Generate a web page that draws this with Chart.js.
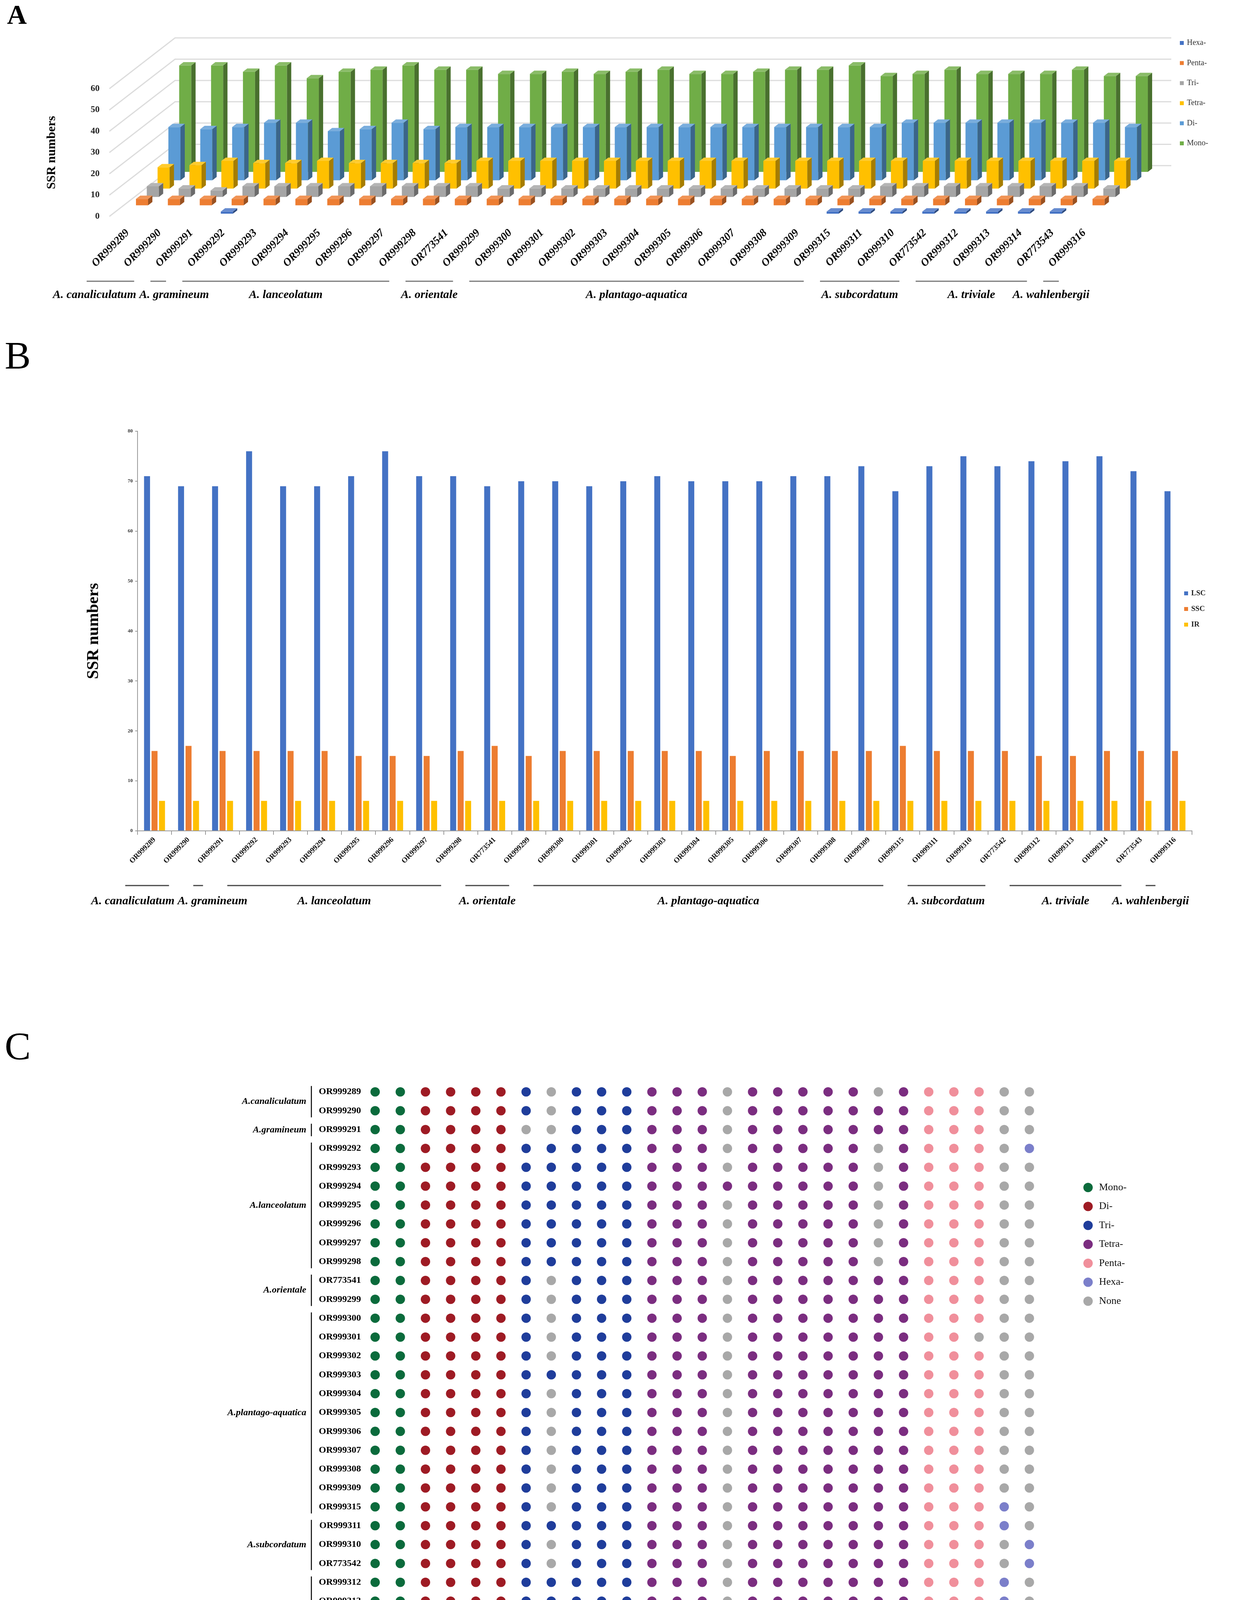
<!DOCTYPE html>
<html>
<head>
<meta charset="utf-8">
<title>SSR distribution in Alisma plastomes</title>
<script src="https://cdn.jsdelivr.net/npm/chart.js@4.4.1/dist/chart.umd.min.js"></script>
<style>
  body { margin: 0; background: #fff; }
  #page { position: relative; width: 3156px; height: 4488px; background: #fff; overflow: hidden; }
  canvas { position: absolute; left: 0; }
  .tag { position: absolute; font-family: 'Liberation Serif', 'Times New Roman', serif; color: #000; line-height: 1; }
</style>
</head>
<body>
<div id="page">
  <canvas id="chartA" width="3156" height="860" style="top:0"></canvas>
  <canvas id="chartB" width="3156" height="1500" style="top:860px"></canvas>
  <canvas id="chartC" width="3156" height="1928" style="top:2560px"></canvas>
  <div class="tag" style="left:18px;top:3px;font-size:70px;font-weight:bold">A</div>
  <div class="tag" style="left:12px;top:860px;font-size:100px">B</div>
  <div class="tag" style="left:12px;top:2628px;font-size:100px">C</div>
</div>
<script>
// accessions, in the order used by all three panels
const accessions = ['OR999289', 'OR999290', 'OR999291', 'OR999292', 'OR999293', 'OR999294', 'OR999295',
  'OR999296', 'OR999297', 'OR999298', 'OR773541', 'OR999299', 'OR999300', 'OR999301', 'OR999302',
  'OR999303', 'OR999304', 'OR999305', 'OR999306', 'OR999307', 'OR999308', 'OR999309', 'OR999315',
  'OR999311', 'OR999310', 'OR773542', 'OR999312', 'OR999313', 'OR999314', 'OR773543', 'OR999316'];
const species = ['A. canaliculatum', 'A. gramineum', 'A. lanceolatum', 'A. orientale',
  'A. plantago-aquatica', 'A. subcordatum', 'A. triviale', 'A. wahlenbergii'];
const speciesShort = ['A.canaliculatum', 'A.gramineum', 'A.lanceolatum', 'A.orientale',
  'A.plantago-aquatica', 'A.subcordatum', 'A. triviale', 'A.wahlenbergii'];
const speciesCount = [2, 1, 7, 2, 11, 3, 4, 1];

// panel A: SSR counts by motif type
const motifTypesA = ['Hexa-', 'Penta-', 'Tri-', 'Tetra-', 'Di-', 'Mono-'];
const hexa  = [0, 0, 0, 1, 0, 0, 0, 0, 0, 0, 0, 0, 0, 0, 0, 0, 0, 0, 0, 0, 0, 0, 1, 1, 1, 1, 1, 1, 1, 1, 0];
const penta = [3, 3, 3, 3, 3, 3, 3, 3, 3, 3, 3, 3, 3, 3, 3, 3, 3, 3, 3, 3, 3, 3, 3, 3, 3, 3, 3, 3, 3, 3, 3];
const tri   = [5, 4, 3, 5, 5, 5, 5, 5, 5, 5, 5, 4, 4, 4, 4, 4, 4, 4, 4, 4, 4, 4, 4, 5, 5, 5, 5, 5, 5, 5, 4];
const tetra = [10, 11, 13, 12, 12, 13, 12, 12, 12, 12, 13, 13, 13, 13, 13, 13, 13, 13, 13, 13, 13, 13, 13, 13, 13, 13, 13, 13, 13, 13, 13];
const di    = [25, 24, 25, 27, 27, 23, 24, 27, 24, 25, 25, 25, 25, 25, 25, 25, 25, 25, 25, 25, 25, 25, 25, 27, 27, 27, 27, 27, 27, 27, 25];
const mono  = [50, 50, 47, 50, 44, 47, 48, 50, 48, 48, 46, 46, 47, 46, 47, 48, 46, 46, 47, 48, 48, 50, 45, 46, 48, 46, 46, 46, 48, 45, 45];

// panel B: SSR counts by plastome region
const regions = ['LSC', 'SSC', 'IR'];
const lsc = [71, 69, 69, 76, 69, 69, 71, 76, 71, 71, 69, 70, 70, 69, 70, 71, 70, 70, 70, 71, 71, 73, 68, 73, 75, 73, 74, 74, 75, 72, 68];
const ssc = [16, 17, 16, 16, 16, 16, 15, 15, 15, 16, 17, 15, 16, 16, 16, 16, 16, 15, 16, 16, 16, 16, 17, 16, 16, 16, 15, 15, 16, 16, 16];
const ir  = [6, 6, 6, 6, 6, 6, 6, 6, 6, 6, 6, 6, 6, 6, 6, 6, 6, 6, 6, 6, 6, 6, 6, 6, 6, 6, 6, 6, 6, 6, 6];

// panel C: which motifs occur in each accession (1 = present), grouped mono/di/tri/tetra/penta/hexa
const motifs = ['A', 'T', 'AT', 'GA', 'TA', 'TC', 'AAT', 'ATT', 'CTT', 'TAA', 'TAT',
  'AAAG', 'AAAT', 'AATA', 'AATT', 'AGGT', 'ATAA', 'ATCT', 'ATGA', 'CTAC', 'TAAT', 'TTAT',
  'CGTCA', 'CTATT', 'TGACG', 'TTGGAT', 'ATCCAA'];
const motifClasses = ['Mono-', 'Di-', 'Tri-', 'Tetra-', 'Penta-', 'Hexa-', 'None'];
const presence = [
  '11 1111 10111 11101111101 111 00', // OR999289
  '11 1111 10111 11101111111 111 00', // OR999290
  '11 1111 00111 11101111111 111 00', // OR999291
  '11 1111 11111 11101111101 111 01', // OR999292
  '11 1111 11111 11101111101 111 00', // OR999293
  '11 1111 11111 11111111101 111 00', // OR999294
  '11 1111 11111 11101111101 111 00', // OR999295
  '11 1111 11111 11101111101 111 00', // OR999296
  '11 1111 11111 11101111101 111 00', // OR999297
  '11 1111 11111 11101111101 111 00', // OR999298
  '11 1111 10111 11101111111 111 00', // OR773541
  '11 1111 10111 11101111111 111 00', // OR999299
  '11 1111 10111 11101111111 111 00', // OR999300
  '11 1111 10111 11101111111 110 00', // OR999301
  '11 1111 10111 11101111111 111 00', // OR999302
  '11 1111 11111 11101111111 111 00', // OR999303
  '11 1111 10111 11101111111 111 00', // OR999304
  '11 1111 10111 11101111111 111 00', // OR999305
  '11 1111 10111 11101111111 111 00', // OR999306
  '11 1111 10111 11101111111 111 00', // OR999307
  '11 1111 10111 11101111111 111 00', // OR999308
  '11 1111 10111 11101111111 111 00', // OR999309
  '11 1111 10111 11101111111 111 10', // OR999315
  '11 1111 11111 11101111111 111 10', // OR999311
  '11 1111 10111 11101111111 111 01', // OR999310
  '11 1111 10111 11101111111 111 01', // OR773542
  '11 1111 11111 11101111111 111 10', // OR999312
  '11 1111 11111 11101111111 111 10', // OR999313
  '11 1111 11111 11101111111 111 10', // OR999314
  '11 1111 11111 11101111111 111 10', // OR773543
  '11 1111 10111 11101111111 111 00'  // OR999316
];

const serif = "'Liberation Serif', 'Times New Roman', serif";
const colorsA = ['#4472C4', '#ED7D31', '#A5A5A5', '#FFC000', '#5B9BD5', '#70AD47'];
const colorsB = ['#4472C4', '#ED7D31', '#FFC000'];
const colorsC = ['#0b6b3c', '#9e1b24', '#1f3d9b', '#7b2d80', '#f08f9b', '#7b7fca', '#a8a8a8'];

function shade(hex, k) {
  const n = parseInt(hex.slice(1), 16);
  const f = c => Math.round(k < 0 ? c * (1 + k) : c + (255 - c) * k);
  return `rgb(${f(n >> 16)},${f((n >> 8) & 255)},${f(n & 255)})`;
}

// fake 3D for panel A: each series sits on its own row of the floor
const floorDX = 168, floorDY = 130;
const rowDepth = i => 0.054 + 0.1646 * i;

const pseudo3d = {
  id: 'pseudo3d',
  beforeDatasetsDraw(chart) {
    const { ctx, chartArea: a, scales: { y } } = chart;
    ctx.save();
    ctx.strokeStyle = '#dcdcdc';
    ctx.lineWidth = 3;
    y.ticks.forEach(t => {
      const py = y.getPixelForValue(t.value);
      ctx.beginPath();
      ctx.moveTo(a.left - 6, py);
      ctx.lineTo(a.left - 6 + floorDX, py - floorDY);
      ctx.lineTo(a.right + floorDX + 14, py - floorDY);
      ctx.stroke();
    });
    ctx.restore();
  },
  beforeDatasetDraw(chart, args) {
    const d = rowDepth(args.index);
    chart.ctx.save();
    chart.ctx.translate(d * floorDX, -d * floorDY);
  },
  afterDatasetDraw(chart, args) {
    const ctx = chart.ctx;
    const ds = chart.data.datasets[args.index];
    const ex = 11, ey = 8.5;
    args.meta.data.forEach((bar, j) => {
      if (!ds.data[j]) return;
      const l = bar.x - bar.width / 2, r = bar.x + bar.width / 2;
      ctx.fillStyle = shade(ds.backgroundColor, -0.35);
      ctx.beginPath();
      ctx.moveTo(r, bar.y); ctx.lineTo(r + ex, bar.y - ey);
      ctx.lineTo(r + ex, bar.base - ey); ctx.lineTo(r, bar.base);
      ctx.closePath(); ctx.fill();
      ctx.fillStyle = shade(ds.backgroundColor, 0.18);
      ctx.beginPath();
      ctx.moveTo(l, bar.y); ctx.lineTo(l + ex, bar.y - ey);
      ctx.lineTo(r + ex, bar.y - ey); ctx.lineTo(r, bar.y);
      ctx.closePath(); ctx.fill();
    });
    ctx.restore();
  }
};

// species lines + names under the category axis
const groupBars = {
  id: 'groupBars',
  afterDraw(chart, args, o) {
    const { ctx, scales: { x } } = chart;
    let k = 0;
    const items = speciesCount.map((n, g) => {
      const it = { x0: x.getPixelForValue(k) + o.from, x1: x.getPixelForValue(k + n - 1) + o.to, name: species[g] };
      k += n;
      return it;
    });
    ctx.save();
    ctx.strokeStyle = o.color;
    ctx.lineWidth = o.width;
    items.forEach(it => {
      ctx.beginPath(); ctx.moveTo(it.x0, o.lineY); ctx.lineTo(it.x1, o.lineY); ctx.stroke();
    });
    ctx.font = o.font;
    ctx.fillStyle = '#000';
    ctx.textAlign = 'center';
    ctx.textBaseline = 'middle';
    const w = items.map(it => ctx.measureText(it.name).width);
    const cx = items.map(it => (it.x0 + it.x1) / 2);
    for (let i = 1; i < items.length; i++) {
      const gap = (cx[i] - w[i] / 2) - (cx[i - 1] + w[i - 1] / 2) - 8;
      if (gap < 0) { cx[i - 1] += gap / 2; cx[i] -= gap / 2; }
    }
    items.forEach((it, i) => ctx.fillText(it.name, cx[i], o.nameY));
    ctx.restore();
  }
};

const sideLegend = {
  id: 'sideLegend',
  afterDraw(chart, args, o) {
    const ctx = chart.ctx;
    ctx.save();
    ctx.font = o.font;
    ctx.textBaseline = 'middle';
    ctx.textAlign = 'left';
    chart.data.datasets.forEach((ds, i) => {
      const y = o.y + i * o.step;
      ctx.fillStyle = ds.backgroundColor;
      if (o.dot) {
        ctx.beginPath(); ctx.arc(o.x, y, o.size / 2, 0, Math.PI * 2); ctx.fill();
      } else {
        ctx.fillRect(o.x - o.size / 2, y - o.size / 2, o.size, o.size);
      }
      ctx.fillStyle = o.color;
      ctx.fillText(ds.label, o.x + o.size / 2 + o.gap, y);
    });
    ctx.restore();
  }
};

const speciesBrackets = {
  id: 'speciesBrackets',
  afterDraw(chart, args, o) {
    const { ctx, scales: { y } } = chart;
    ctx.save();
    ctx.strokeStyle = '#000';
    ctx.lineWidth = 2.5;
    ctx.font = o.font;
    ctx.fillStyle = '#000';
    ctx.textAlign = 'right';
    ctx.textBaseline = 'middle';
    let k = 0;
    speciesCount.forEach((n, g) => {
      const y0 = y.getPixelForValue(k) - 15, y1 = y.getPixelForValue(k + n - 1) + 17;
      ctx.beginPath(); ctx.moveTo(o.lineX, y0); ctx.lineTo(o.lineX, y1); ctx.stroke();
      ctx.fillText(speciesShort[g], o.nameX, (y0 + y1) / 2);
      k += n;
    });
    ctx.restore();
  }
};

const common = { responsive: false, animation: false, devicePixelRatio: 1 };

// ---------- A ----------
const countsA = [hexa, penta, tri, tetra, di, mono];
new Chart(document.getElementById('chartA'), {
  type: 'bar',
  data: {
    labels: accessions,
    datasets: motifTypesA.map((name, i) => ({
      label: name, data: countsA[i], backgroundColor: colorsA[i],
      clip: false, grouped: false, categoryPercentage: 1, barPercentage: 0.38
    }))
  },
  options: {
    ...common,
    layout: { padding: { top: 227, right: 340, left: 0, bottom: 0 } },
    plugins: {
      legend: { display: false },
      tooltip: { enabled: false },
      sideLegend: { x: 3025, y: 110, step: 51.4, size: 10, gap: 8, font: `20px ${serif}`, color: '#333' },
      groupBars: { lineY: 720, nameY: 755, from: -105, to: -65, width: 3, color: '#777', font: `italic bold 30px ${serif}` }
    },
    scales: {
      x: {
        grid: { display: false, drawTicks: false },
        border: { display: false },
        ticks: { autoSkip: false, minRotation: 45, maxRotation: 45, padding: 26, color: '#000',
          font: { family: serif, size: 28, weight: 'bold', style: 'italic' } },
        afterFit: s => { s.height = 306; }
      },
      y: {
        min: 0, max: 60,
        grid: { display: false, drawTicks: false },
        border: { display: false },
        ticks: { stepSize: 10, padding: 31, color: '#222', font: { family: serif, size: 23, weight: 'bold' } },
        title: { display: true, text: 'SSR numbers', color: '#000', padding: { top: 114 },
          font: { family: serif, size: 32, weight: 'bold' } },
        afterFit: s => { s.width = 286; }
      }
    }
  },
  plugins: [pseudo3d, groupBars, sideLegend]
});

// ---------- B ----------
const countsB = [lsc, ssc, ir];
new Chart(document.getElementById('chartB'), {
  type: 'bar',
  data: {
    labels: accessions,
    datasets: regions.map((name, i) => ({
      label: name, data: countsB[i], backgroundColor: colorsB[i],
      categoryPercentage: 0.66, barPercentage: 0.8
    }))
  },
  options: {
    ...common,
    layout: { padding: { top: 244, right: 105, left: 0, bottom: 0 } },
    plugins: {
      legend: { display: false },
      tooltip: { enabled: false },
      sideLegend: { x: 3036, y: 659, step: 40, size: 10, gap: 8, font: `bold 19px ${serif}`, color: '#222' },
      groupBars: { lineY: 1407, nameY: 1447, from: -75, to: -50, width: 3, color: '#444', font: `italic bold 30px ${serif}` }
    },
    scales: {
      x: {
        grid: { display: true, drawOnChartArea: false, offset: true, tickLength: 10, color: '#999', lineWidth: 2 },
        border: { display: true, color: '#999', width: 2 },
        ticks: { autoSkip: false, minRotation: 45, maxRotation: 45, padding: 2, color: '#111',
          font: { family: serif, size: 19, weight: 'bold' } },
        afterFit: s => { s.height = 233; }
      },
      y: {
        min: 0, max: 80,
        grid: { display: true, drawOnChartArea: false, tickLength: 6, color: '#999', lineWidth: 2 },
        border: { display: true, color: '#999', width: 2 },
        ticks: { stepSize: 10, padding: 6, color: '#333', font: { family: serif, size: 13, weight: 'bold' } },
        title: { display: true, text: 'SSR numbers', color: '#000', padding: { top: 215 },
          font: { family: serif, size: 42, weight: 'bold' } },
        afterFit: s => { s.width = 352; }
      }
    }
  },
  plugins: [groupBars, sideLegend]
});

// ---------- C ----------
const dots = motifClasses.map(() => []);
presence.forEach((row, r) => {
  const bits = row.replace(/ /g, '');
  motifs.forEach((m, c) => dots[bits[c] === '1' ? m.length - 1 : 6].push({ x: c, y: r }));
});
new Chart(document.getElementById('chartC'), {
  type: 'scatter',
  data: {
    datasets: motifClasses.map((name, i) => ({
      label: name, data: dots[i], backgroundColor: colorsC[i],
      pointRadius: 12, pointHoverRadius: 12, borderWidth: 0
    }))
  },
  options: {
    ...common,
    layout: { padding: { top: 211, right: 489, left: 0, bottom: 0 } },
    plugins: {
      legend: { display: false },
      tooltip: { enabled: false },
      sideLegend: { x: 2785, y: 480, step: 48.5, size: 24, gap: 16, dot: true, font: `26px ${serif}`, color: '#111' },
      speciesBrackets: { lineX: 797, nameX: 784, font: `italic bold 24px ${serif}` }
    },
    scales: {
      x: {
        type: 'linear', min: -0.5, max: 26.5,
        afterBuildTicks: s => { s.ticks = motifs.map((m, i) => ({ value: i })); },
        grid: { display: false, drawTicks: false },
        border: { display: false },
        ticks: { autoSkip: false, maxRotation: 0, padding: 8, color: '#000',
          callback: v => motifs[v].split(''),
          font: { family: serif, size: 21, weight: 'bold', lineHeight: 1.6 } },
        afterFit: s => { s.height = 220; }
      },
      y: {
        type: 'linear', min: -0.5, max: 30.5, reverse: true,
        afterBuildTicks: s => { s.ticks = accessions.map((a, i) => ({ value: i })); },
        grid: { display: false, drawTicks: false },
        border: { display: false },
        ticks: { autoSkip: false, padding: 4, color: '#000',
          callback: v => accessions[v],
          font: { family: serif, size: 24, weight: 'bold' } },
        afterFit: s => { s.width = 928; }
      }
    }
  },
  plugins: [speciesBrackets, sideLegend]
});
</script>
</body>
</html>
